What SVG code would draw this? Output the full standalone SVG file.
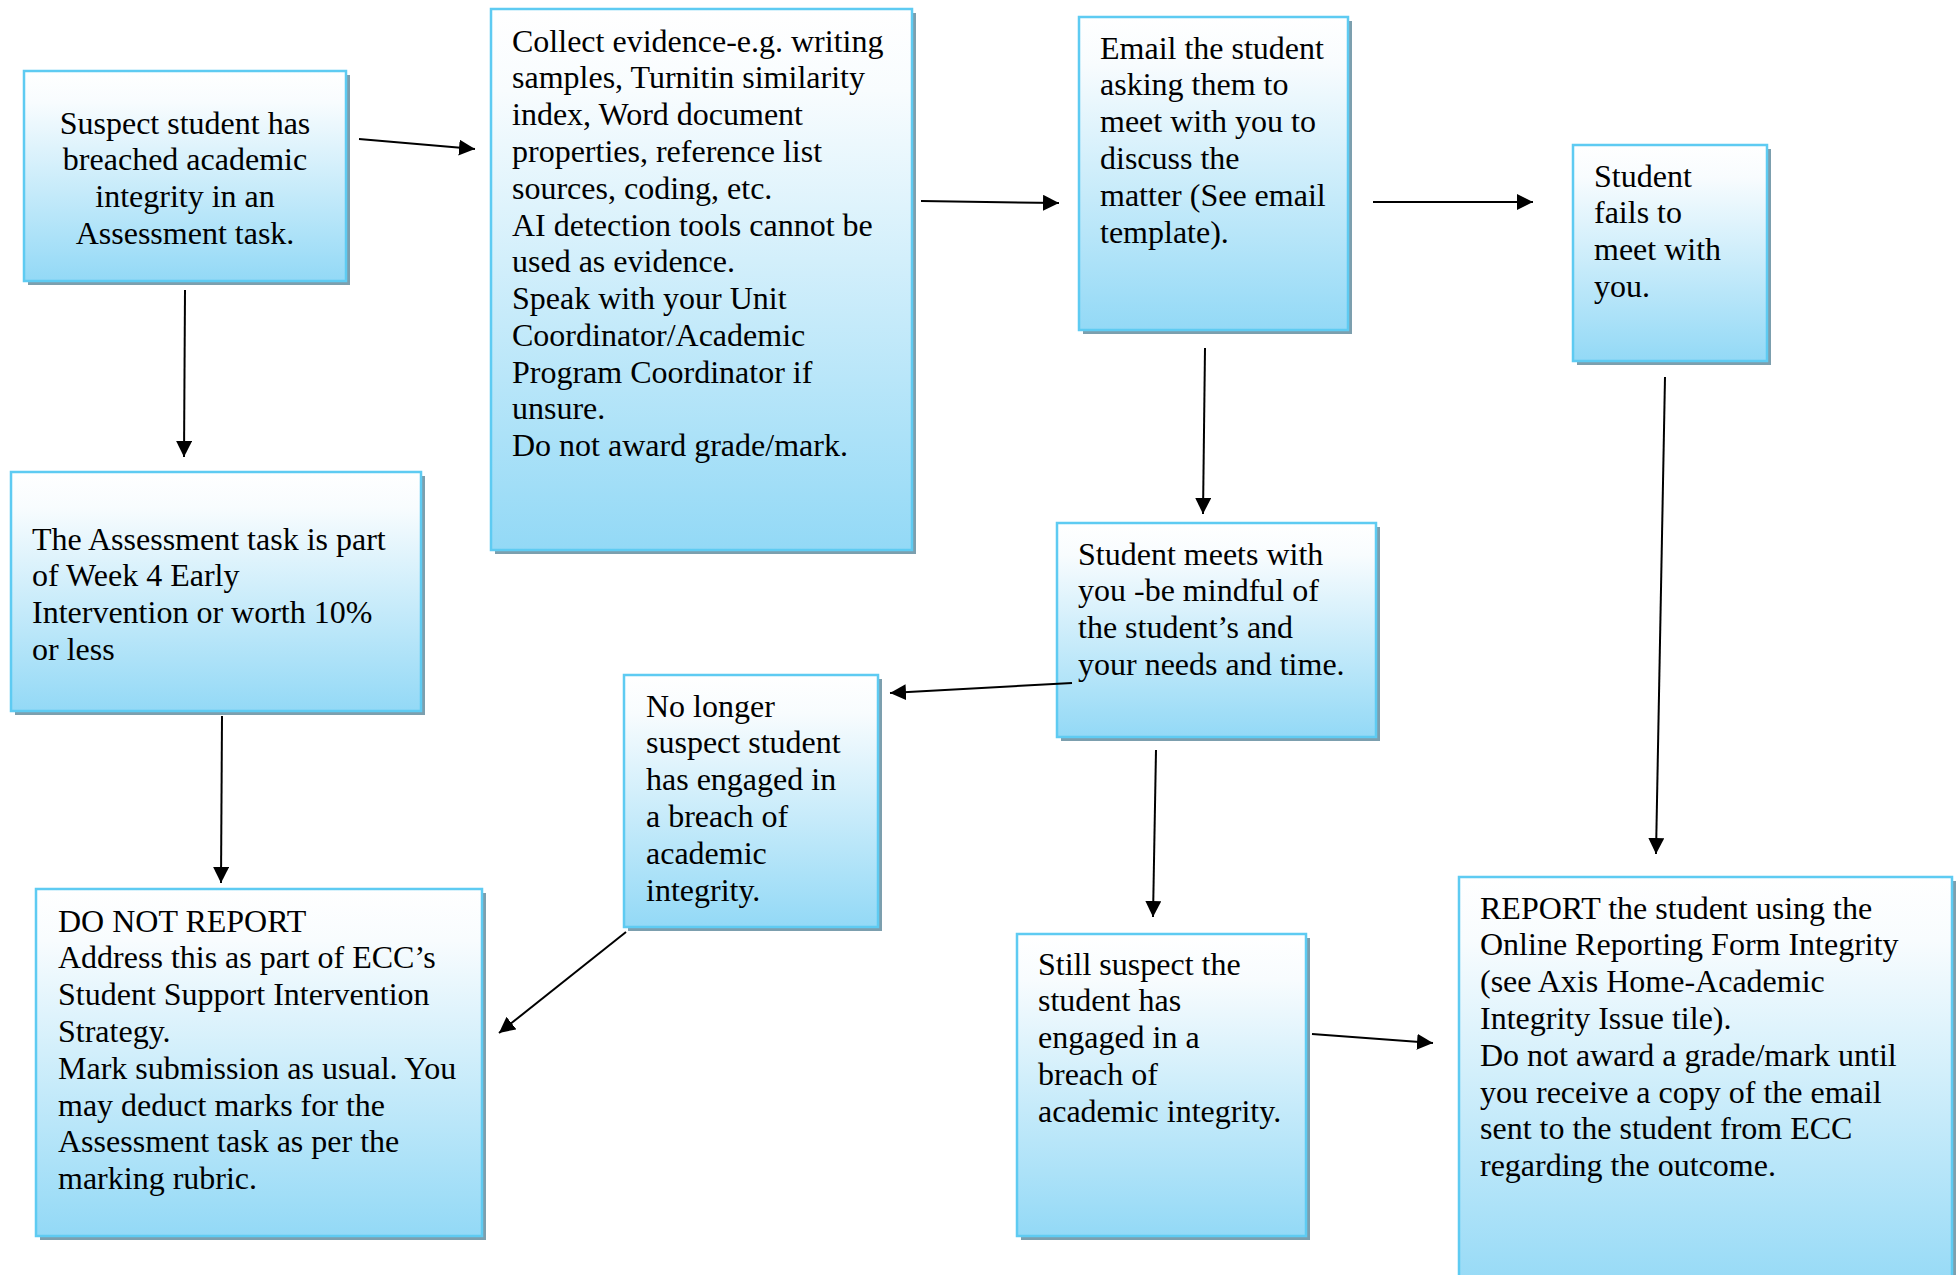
<svg xmlns="http://www.w3.org/2000/svg" width="1957" height="1275" viewBox="0 0 1957 1275">
<defs>
<linearGradient id="g" x1="0" y1="0" x2="0" y2="1">
<stop offset="0" stop-color="#ffffff"/>
<stop offset="0.15" stop-color="#f8fcfe"/>
<stop offset="1" stop-color="#93d9f6"/>
</linearGradient>
<marker id="ah" markerUnits="userSpaceOnUse" markerWidth="18" markerHeight="16" refX="16" refY="8" orient="auto">
<path d="M0,0 L16,8 L0,16 Z" fill="#000"/>
</marker>
</defs>
<style>
.sh{fill:#7c9fae}
.bx{fill:url(#g);stroke:#5ecbf2;stroke-width:2.5}
text{font-family:"Liberation Serif","Times New Roman",serif;font-size:32px;fill:#000}
.c{stroke:#000;stroke-width:2;fill:none;marker-end:url(#ah)}
</style>

<g id="n1">
<rect class="sh" x="28" y="75" width="322" height="210"/>
<rect class="bx" x="24" y="71" width="322" height="210"/>
<text text-anchor="middle"><tspan x="185" y="133.5">Suspect student has</tspan><tspan x="185" dy="36.8">breached academic</tspan><tspan x="185" dy="36.8">integrity in an</tspan><tspan x="185" dy="36.8">Assessment task.</tspan></text>
</g>

<g id="n2">
<rect class="sh" x="495" y="13" width="421" height="541"/>
<rect class="bx" x="491" y="9" width="421" height="541"/>
<text><tspan x="512" y="51.5">Collect evidence-e.g. writing</tspan><tspan x="512" dy="36.8">samples, Turnitin similarity</tspan><tspan x="512" dy="36.8">index, Word document</tspan><tspan x="512" dy="36.8">properties, reference list</tspan><tspan x="512" dy="36.8">sources, coding, etc.</tspan><tspan x="512" dy="36.8">AI detection tools cannot be</tspan><tspan x="512" dy="36.8">used as evidence.</tspan><tspan x="512" dy="36.8">Speak with your Unit</tspan><tspan x="512" dy="36.8">Coordinator/Academic</tspan><tspan x="512" dy="36.8">Program Coordinator if</tspan><tspan x="512" dy="36.8">unsure.</tspan><tspan x="512" dy="36.8">Do not award grade/mark.</tspan></text>
</g>

<g id="n3">
<rect class="sh" x="1083" y="21" width="269" height="313"/>
<rect class="bx" x="1079" y="17" width="269" height="313"/>
<text><tspan x="1100" y="58.5">Email the student</tspan><tspan x="1100" dy="36.8">asking them to</tspan><tspan x="1100" dy="36.8">meet with you to</tspan><tspan x="1100" dy="36.8">discuss the</tspan><tspan x="1100" dy="36.8">matter (See email</tspan><tspan x="1100" dy="36.8">template).</tspan></text>
</g>

<g id="n4">
<rect class="sh" x="1577" y="149" width="194" height="216"/>
<rect class="bx" x="1573" y="145" width="194" height="216"/>
<text><tspan x="1594" y="186.5">Student</tspan><tspan x="1594" dy="36.8">fails to</tspan><tspan x="1594" dy="36.8">meet with</tspan><tspan x="1594" dy="36.8">you.</tspan></text>
</g>

<g id="n5">
<rect class="sh" x="15" y="476" width="410" height="239"/>
<rect class="bx" x="11" y="472" width="410" height="239"/>
<text><tspan x="32" y="549.5">The Assessment task is part</tspan><tspan x="32" dy="36.8">of Week 4 Early</tspan><tspan x="32" dy="36.8">Intervention or worth 10%</tspan><tspan x="32" dy="36.8">or less</tspan></text>
</g>

<g id="n6">
<rect class="sh" x="1061" y="527" width="319" height="214"/>
<rect class="bx" x="1057" y="523" width="319" height="214"/>
<text><tspan x="1078" y="564.5">Student meets with</tspan><tspan x="1078" dy="36.8">you -be mindful of</tspan><tspan x="1078" dy="36.8">the student’s and</tspan><tspan x="1078" dy="36.8">your needs and time.</tspan></text>
</g>

<g id="n7">
<rect class="sh" x="628" y="679" width="254" height="252"/>
<rect class="bx" x="624" y="675" width="254" height="252"/>
<text><tspan x="646" y="716.5">No longer</tspan><tspan x="646" dy="36.8">suspect student</tspan><tspan x="646" dy="36.8">has engaged in</tspan><tspan x="646" dy="36.8">a breach of</tspan><tspan x="646" dy="36.8">academic</tspan><tspan x="646" dy="36.8">integrity.</tspan></text>
</g>

<g id="n8">
<rect class="sh" x="40" y="893" width="446" height="347"/>
<rect class="bx" x="36" y="889" width="446" height="347"/>
<text><tspan x="58" y="931.5">DO NOT REPORT</tspan><tspan x="58" dy="36.8">Address this as part of ECC’s</tspan><tspan x="58" dy="36.8">Student Support Intervention</tspan><tspan x="58" dy="36.8">Strategy.</tspan><tspan x="58" dy="36.8">Mark submission as usual. You</tspan><tspan x="58" dy="36.8">may deduct marks for the</tspan><tspan x="58" dy="36.8">Assessment task as per the</tspan><tspan x="58" dy="36.8">marking rubric.</tspan></text>
</g>

<g id="n9">
<rect class="sh" x="1021" y="938" width="289" height="302"/>
<rect class="bx" x="1017" y="934" width="289" height="302"/>
<text><tspan x="1038" y="974.5">Still suspect the</tspan><tspan x="1038" dy="36.8">student has</tspan><tspan x="1038" dy="36.8">engaged in a</tspan><tspan x="1038" dy="36.8">breach of</tspan><tspan x="1038" dy="36.8">academic integrity.</tspan></text>
</g>

<g id="n10">
<rect class="sh" x="1463" y="881" width="493" height="420"/>
<rect class="bx" x="1459" y="877" width="493" height="420"/>
<text><tspan x="1480" y="918.5">REPORT the student using the</tspan><tspan x="1480" dy="36.8">Online Reporting Form Integrity</tspan><tspan x="1480" dy="36.8">(see Axis Home-Academic</tspan><tspan x="1480" dy="36.8">Integrity Issue tile).</tspan><tspan x="1480" dy="36.8">Do not award a grade/mark until</tspan><tspan x="1480" dy="36.8">you receive a copy of the email</tspan><tspan x="1480" dy="36.8">sent to the student from ECC</tspan><tspan x="1480" dy="36.8">regarding the outcome.</tspan></text>
</g>

<g id="connectors">
<path class="c" d="M359,139 L475,149"/>
<path class="c" d="M185,290 L184,457"/>
<path class="c" d="M921,201 L1059,203"/>
<path class="c" d="M1373,202 L1533,202"/>
<path class="c" d="M1205,348 L1203,514"/>
<path class="c" d="M1665,377 L1656,854"/>
<path class="c" d="M1072,683 L890,693"/>
<path class="c" d="M1156,750 L1153,917"/>
<path class="c" d="M222,716 L221,883"/>
<path class="c" d="M626,932 L499,1033"/>
<path class="c" d="M1312,1034 L1433,1043"/>
</g>
</svg>
